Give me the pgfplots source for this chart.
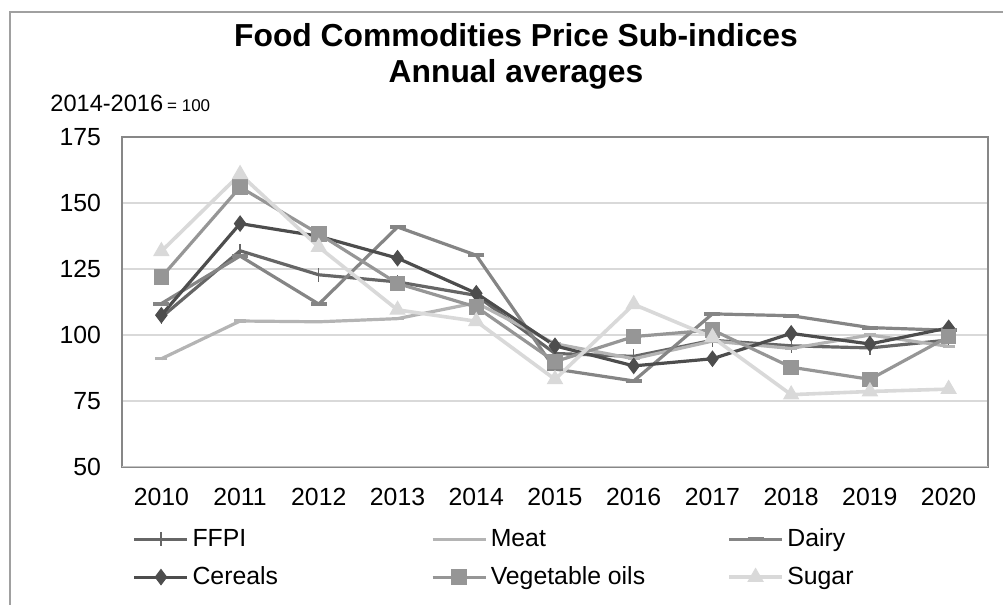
\documentclass[border=0pt]{standalone}
\usepackage{fontspec}
\setmainfont{Liberation Sans}
\usepackage{pgfplots}
\usepackage{pgfplotstable}
\pgfplotsset{compat=1.18}

\definecolor{cFFPI}{HTML}{666666}
\definecolor{cMeat}{HTML}{B4B4B4}
\definecolor{cDairy}{HTML}{858585}
\definecolor{cCereal}{HTML}{4D4D4D}
\definecolor{cVeg}{HTML}{969696}
\definecolor{cSugar}{HTML}{D9D9D9}
\definecolor{cGrid}{HTML}{D9D9D9}
\definecolor{cFrame}{HTML}{878787}
\definecolor{cBottom}{HTML}{C4C4C4}
\definecolor{cOuter}{HTML}{A0A0A0}

% legend text in a fixed-width box, same height and depth for every entry
\newcommand\legtext[2]{\makebox[#1][l]{\vphantom{Dgy}#2}}

% annual averages, 2014-2016 = 100
\pgfplotstableread{
year ffpi  meat  dairy cereals vegoils sugar
2010 106.7 91.0  111.9 107.5   121.9   131.7
2011 131.9 105.3 129.9 142.2   156.0   160.9
2012 122.8 105.0 111.7 137.4   138.3   133.3
2013 120.1 106.2 140.9 129.1   119.5   109.5
2014 115.0 112.2 130.2 115.8   110.6   105.2
2015 93.0  96.7  87.1  95.9    89.9    83.2
2016 91.9  91.0  82.6  88.3    99.4    111.6
2017 98.0  97.7  108.0 91.0    101.9   99.1
2018 95.9  94.9  107.3 100.6   87.8    77.4
2019 95.1  100.0 102.8 96.6    83.2    78.6
2020 98.1  95.7  101.8 102.7   99.4    79.5
}\prices

\begin{document}
\begin{tikzpicture}
\useasboundingbox (0,0) rectangle (501.5pt,302.5pt);
\draw[color=cOuter, line width=0.75pt] (5pt,0) -- (5pt,296.5pt) -- (501.5pt,296.5pt);

\node[anchor=base, inner sep=0pt, font=\bfseries\fontsize{15.9}{18}\selectfont] at (258pt,279pt) {Food Commodities Price Sub-indices};
\node[anchor=base, inner sep=0pt, font=\bfseries\fontsize{15.9}{18}\selectfont] at (258pt,261pt) {Annual averages};
\node[anchor=base west, inner sep=0pt, font=\fontsize{11.8}{14}\selectfont] at (25pt,246.5pt) {2014-2016\,{\fontsize{8.5}{10}\selectfont= 100}};

\begin{axis}[
  at={(61pt,69pt)}, anchor=south west,
  scale only axis, width=433pt, height=165pt,
  xmin=2009.5, xmax=2020.5, ymin=50, ymax=175,
  xtick={2010,...,2020},
  xticklabels={2010,2011,2012,2013,2014,2015,2016,2017,2018,2019,2020},
  ytick={50,75,...,175},
  ymajorgrids, grid style={cGrid, line width=1pt},
  axis line style={cFrame, line width=1pt},
  major tick length=0pt,
  tick label style={font=\fontsize{12.4}{14}\selectfont},
  /pgf/number format/assume math mode=true,
  yticklabel style={xshift=-7pt},
  xticklabel style={yshift=-7pt},
  every axis plot/.append style={line width=1.6pt},
  legend columns=3,
  legend style={draw=none, fill=none, inner sep=0pt,
    at={(axis description cs:0.0121,-0.175)}, anchor=north west,
    nodes={inner sep=1.75pt, font=\fontsize{12.4}{14}\selectfont},
    row sep=5pt},
  legend cell align=left,
  legend image code/.code={\draw[mark repeat=2,mark phase=2,#1] plot coordinates {(0pt,0pt) (13.25pt,0pt) (26.5pt,0pt)};},
]
\addplot[color=cFFPI, mark=|, mark size=3.5pt, mark options={line width=0.6pt}] table[x=year,y=ffpi]{\prices};
\addlegendentry{\legtext{117.5pt}{FFPI}}
\addplot[color=cMeat, mark=-, mark size=3pt] table[x=year,y=meat]{\prices};
\addlegendentry{\legtext{116.5pt}{Meat}}
\addplot[color=cDairy, mark=-, mark size=4pt, mark options={line width=2pt}] table[x=year,y=dairy]{\prices};
\addlegendentry{\legtext{40pt}{Dairy}}
\addplot[color=cCereal, mark=diamond*, mark size=3.8pt, mark options={line width=0.5pt}] table[x=year,y=cereals]{\prices};
\addlegendentry{\legtext{117.5pt}{Cereals}}
\addplot[color=cVeg, mark=square*, mark size=3.6pt, mark options={line width=0.5pt}] table[x=year,y=vegoils]{\prices};
\addlegendentry{\legtext{116.5pt}{Vegetable oils}}
\addplot[color=cSugar, line width=1.8pt, mark=triangle*, mark size=4.3pt, mark options={line width=0.5pt}] table[x=year,y=sugar]{\prices};
\addlegendentry{\legtext{40pt}{Sugar}}
\draw[color=cBottom, line width=1pt] (rel axis cs:0,0) -- (rel axis cs:1,0);
\end{axis}
\end{tikzpicture}
\end{document}
